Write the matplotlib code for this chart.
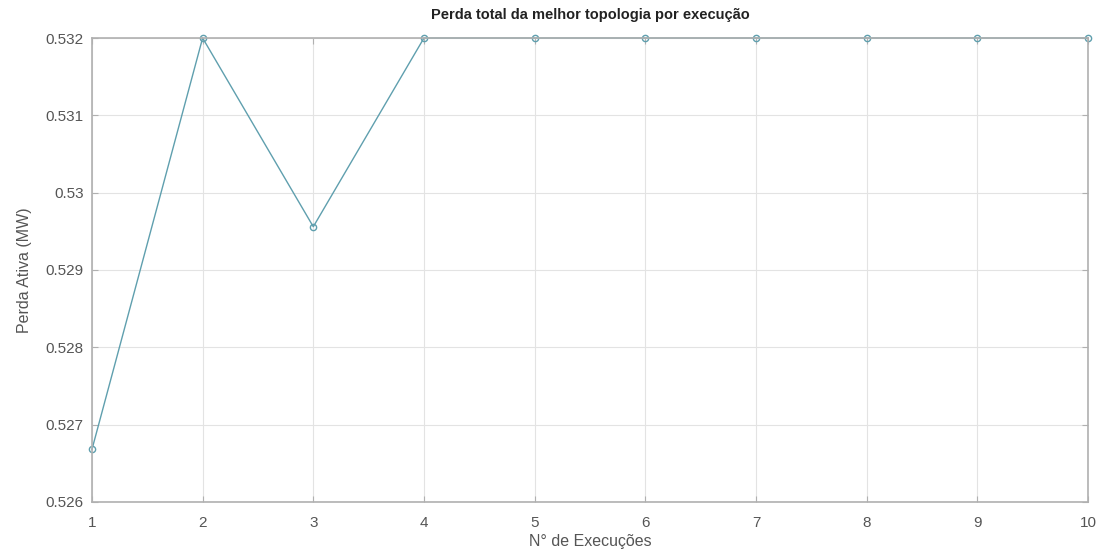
import numpy as np
import matplotlib.pyplot as plt

plt.rcParams['font.family'] = ['Liberation Sans', 'DejaVu Sans']

execucoes = [1, 2, 3, 4, 5, 6, 7, 8, 9, 10]
perda = [0.52668, 0.532, 0.52956, 0.532, 0.532, 0.532, 0.532, 0.532, 0.532, 0.532]
yticks = [0.526, 0.527, 0.528, 0.529, 0.53, 0.531, 0.532]
ytick_labels = ['0.526', '0.527', '0.528', '0.529', '0.53', '0.531', '0.532']

fig = plt.figure(figsize=(11.04, 5.59), dpi=100)
ax = fig.add_axes([0.0833, 0.102, 0.9022, 0.830])

ax.plot(execucoes, perda, color='#5f9fae', linewidth=1.0, marker='o',
        markersize=4.5, markerfacecolor='none', markeredgecolor='#5f9fae',
        clip_on=False)

ax.set_xlim(1, 10)
ax.set_ylim(0.526, 0.532)
ax.set_xticks(execucoes)
ax.set_yticks(yticks)
ax.set_yticklabels(ytick_labels)
ax.grid(True, color='#e3e3e3', linewidth=0.8)
ax.set_axisbelow(True)
for s in ax.spines.values():
    s.set_color('#b0b0b0')
    s.set_linewidth(1.2)
ax.tick_params(direction='in', color='#b0b0b0', labelcolor='#555555',
               labelsize=11, length=4, top=True, right=True)
ax.tick_params(axis='x', pad=10)
ax.tick_params(axis='y', pad=6)

ax.set_title('Perda total da melhor topologia por execução', fontsize=10.5,
             fontweight='bold', color='#222222', pad=14)
ax.set_xlabel('N° de Execuções', fontsize=11.5, color='#555555', labelpad=3)
ax.set_ylabel('Perda Ativa (MW)', fontsize=11.5, color='#555555', labelpad=10)

fig.savefig('out.png', dpi=100)
